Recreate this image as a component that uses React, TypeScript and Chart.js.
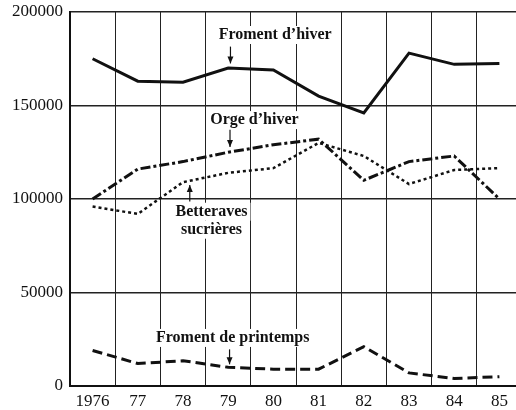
import React, { useEffect, useRef } from "react";
import { Chart, registerables } from "chart.js";

Chart.register(...registerables);

const categories = ["1976", "77", "78", "79", "80", "81", "82", "83", "84", "85"];
const fromentHiver = [175000, 163000, 162500, 170000, 169000, 155000, 146000, 178000, 172000, 172500];
const orgeHiver = [100000, 116000, 120000, 125000, 129000, 132000, 110000, 120000, 123000, 100000];
const betteraves = [96000, 92000, 109000, 114000, 116500, 130000, 123000, 108000, 115500, 116500];
const fromentPrintemps = [19000, 12000, 13500, 10000, 9000, 9000, 21000, 7000, 4000, 5000];
const yTicks = [0, 50000, 100000, 150000, 200000];

// label annotations (placed in data space: category index, value)
const annotations = [
  { lines: ["Froment d’hiver"], x: 4.04, y: 187700, arrowX: 3.05, from: 181500, to: 172500, up: false },
  { lines: ["Orge d’hiver"], x: 3.58, y: 142200, arrowX: 3.04, from: 137000, to: 127800, up: false },
  { lines: ["Betteraves", "sucrières"], x: 2.63, y: 93200, arrowX: 2.15, from: 98600, to: 107500, up: true },
  { lines: ["Froment de printemps"], x: 3.1, y: 25700, arrowX: 3.03, from: 19600, to: 11600, up: false },
];

const FONT = "'Liberation Serif', 'DejaVu Serif', serif";

const labelPlugin = {
  id: "labels",
  afterDraw(chart: any) {
    const ctx = chart.ctx;
    const xs = chart.scales.x;
    const ys = chart.scales.y;
    const x0 = xs.getPixelForValue(0);
    const step = xs.getPixelForValue(1) - x0;
    ctx.save();
    ctx.font = `bold 16px ${FONT}`;
    ctx.textAlign = "center";
    ctx.textBaseline = "middle";
    const lh = 18;
    for (const a of annotations) {
      const cx = x0 + a.x * step;
      const cy = ys.getPixelForValue(a.y);
      a.lines.forEach((t, i) => {
        const w = ctx.measureText(t).width;
        const ty = cy + i * lh;
        ctx.fillStyle = "#fff";
        ctx.fillRect(cx - w / 2 - 3, ty - 9, w + 6, 18);
      });
      ctx.fillStyle = "#111";
      a.lines.forEach((t, i) => {
        ctx.fillText(t, cx, cy + i * lh);
      });
      const ax = x0 + a.arrowX * step;
      const yf = ys.getPixelForValue(a.from);
      const yt = ys.getPixelForValue(a.to);
      ctx.strokeStyle = "#111";
      ctx.lineWidth = 1.2;
      ctx.beginPath();
      ctx.moveTo(ax, yf);
      ctx.lineTo(ax, yt);
      ctx.stroke();
      const dir = a.up ? -1 : 1;
      ctx.beginPath();
      ctx.moveTo(ax, yt);
      ctx.lineTo(ax - 3, yt - dir * 7);
      ctx.lineTo(ax + 3, yt - dir * 7);
      ctx.closePath();
      ctx.fill();
    }
    ctx.restore();
  },
};

export default function App() {
  const ref = useRef<HTMLCanvasElement>(null);
  useEffect(() => {
    if (!ref.current) return;
    const common = { pointRadius: 0, tension: 0, fill: false, borderColor: "#111" };
    const chart = new Chart(ref.current, {
      type: "line",
      data: {
        labels: categories,
        datasets: [
          { ...common, label: "Froment d’hiver", data: fromentHiver, borderWidth: 3 },
          { ...common, label: "Orge d’hiver", data: orgeHiver, borderWidth: 3, borderDash: [10, 3, 3, 3] },
          { ...common, label: "Betteraves sucrières", data: betteraves, borderWidth: 2.5, borderDash: [3, 3] },
          { ...common, label: "Froment de printemps", data: fromentPrintemps, borderWidth: 3, borderDash: [10, 5] },
        ],
      },
      options: {
        animation: false,
        responsive: false,
        layout: { padding: { top: 12, right: 18, left: 0, bottom: 0 } },
        plugins: { legend: { display: false }, tooltip: { enabled: false } },
        scales: {
          x: {
            offset: true,
            grid: { offset: true, color: "#222", lineWidth: 1, drawTicks: false },
            border: { display: true, color: "#111", width: 2 },
            ticks: { color: "#111", padding: 5, font: { family: FONT, size: 17 } },
            afterFit: (s: any) => {
              s.height = 24;
              s.paddingLeft = 0;
              s.paddingRight = 0;
            },
          },
          y: {
            min: 0,
            max: 200000,
            afterBuildTicks: (s: any) => {
              s.ticks = yTicks.map((v) => ({ value: v }));
            },
            grid: { color: "#222", lineWidth: 1.5, drawTicks: false },
            border: { display: true, color: "#111", width: 2 },
            ticks: {
              color: "#111",
              padding: 7,
              font: { family: FONT, size: 17 },
              callback: (v: any) => String(v),
            },
            afterFit: (s: any) => {
              s.width = 70;
              s.paddingTop = 0;
              s.paddingBottom = 0;
            },
          },
        },
      },
      plugins: [labelPlugin],
    });
    return () => chart.destroy();
  }, []);
  return (
    <div style={{ position: "fixed", left: 0, top: 0, width: 516, height: 410, overflow: "hidden", background: "#fff" }}>
      <canvas ref={ref} width={540} height={410} style={{ display: "block" }} />
    </div>
  );
}
